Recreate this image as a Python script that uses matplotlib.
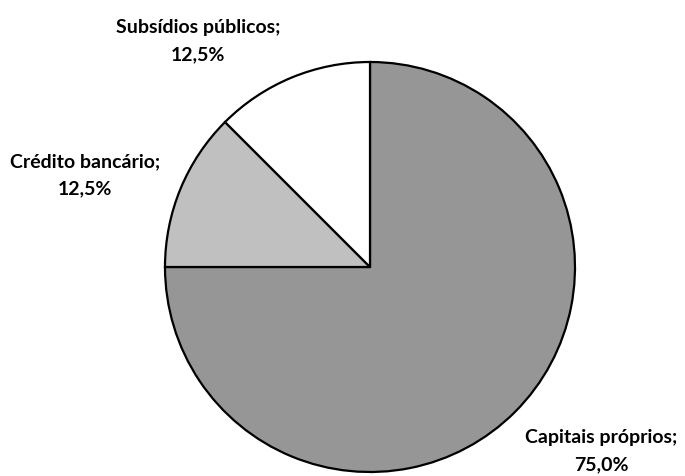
import matplotlib
matplotlib.use("Agg")
import matplotlib.pyplot as plt

# Funding sources (share of total, %)
categories = ["Capitais próprios", "Crédito bancário", "Subsídios públicos"]
shares = [75.0, 12.5, 12.5]
colors = ["#969696", "#c0c0c0", "#ffffff"]

W, H = 685, 477
fig = plt.figure(figsize=(W / 100, H / 100), dpi=100)
fig.patch.set_facecolor("white")

cx, cy, r = 370, 268, 205
ax = fig.add_axes([(cx - r) / W, (H - cy - r) / H, 2 * r / W, 2 * r / H])
ax.pie(shares, colors=colors, startangle=90, counterclock=False,
       wedgeprops=dict(edgecolor="black", linewidth=1.6))
ax.set_xlim(-1, 1)
ax.set_ylim(-1, 1)
ax.set_aspect("equal")
ax.axis("off")

# label anchor points (pixel coordinates, top-left origin)
label_pos = [(601, 451), (85, 175), (198, 41)]
for name, val, (px, py) in zip(categories, shares, label_pos):
    txt = f"{name};\n{val:.1f}%".replace(".", ",")
    fig.text(px / W, 1 - py / H, txt, ha="center", va="center",
             fontsize=14, fontweight="bold", family="Lato",
             linespacing=1.75, color="black")

fig.savefig("out.png", dpi=100, facecolor="white")
